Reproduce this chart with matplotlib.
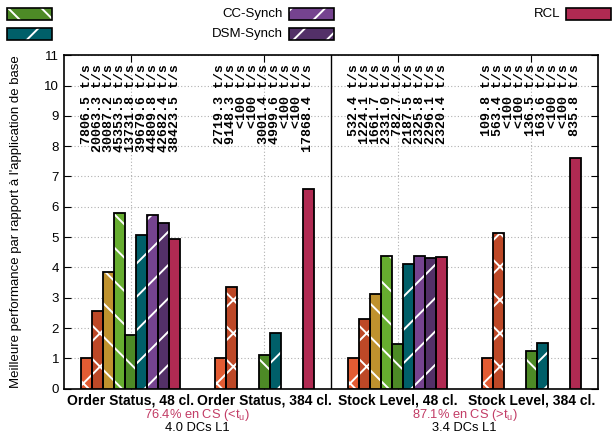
import matplotlib
matplotlib.use("Agg")
import matplotlib.pyplot as plt
import matplotlib.patches as mpatches
import numpy as np

plt.rcParams["font.family"] = ["Liberation Sans", "DejaVu Sans"]
plt.rcParams["hatch.linewidth"] = 1.4

# Throughput (transactions/s); NaN = below 100 t/s
groups = ["Order Status, 48 cl.", "Order Status, 384 cl.",
          "Stock Level, 48 cl.", "Stock Level, 384 cl."]
base     = [7806.5, 2719.3, 532.4, 109.8]
spinlock = [20063.3, 9148.3, 1224.1, 563.4]
mcs      = [30087.2, np.nan, 1661.7, np.nan]
flat     = [45353.5, np.nan, 2331.0, np.nan]
rclh     = [13731.8, 3001.4, 782.7, 136.5]
dsmh     = [39679.6, 4999.6, 2187.5, 163.6]
ccsynch  = [44809.8, np.nan, 2325.8, np.nan]
dsmsynch = [42682.4, np.nan, 2296.1, np.nan]
rcl      = [38423.5, 17868.4, 2320.4, 835.8]

series = [base, spinlock, mcs, flat, rclh, dsmh, ccsynch, dsmsynch, rcl]
colors = ["#e35c33", "#bd4827", "#bf922e", "#66ad2f", "#4d8a26",
          "#005f69", "#75438f", "#533068", "#b02a52"]
hatches = ["x", "x", "\\", "\\", "\\", "/", "/", "/", None]

cs_notes = ["76.4% en CS (<t$_\\mathregular{u}$)", "87.1% en CS (>t$_\\mathregular{u}$)"]
dc_notes = ["4.0 DCs L1", "3.4 DCs L1"]
PINK = "#c23b65"

fig = plt.figure(figsize=(6.14, 4.34), dpi=100)
ax = fig.add_axes([0.104, 0.1046, 0.87, 0.768])

x = np.arange(len(groups))
w = 0.0825
for i, (vals, col, h) in enumerate(zip(series, colors, hatches)):
    vals = np.array(vals, dtype=float)
    speedup = vals / np.array(base)
    ok = ~np.isnan(speedup)
    pos = x + (i - 4) * w
    # fill + white hatch, then a separate black outline
    ax.bar(pos[ok], speedup[ok], w, color=col, hatch=h, edgecolor="white",
           linewidth=0, zorder=3)
    ax.bar(pos[ok], speedup[ok], w, fill=False, edgecolor="black",
           linewidth=1.3, zorder=4)
    for p, v in zip(pos, vals):
        txt = "<100 t/s" if np.isnan(v) else f"{v:.1f} t/s"
        ax.text(p, 10.7, txt, rotation=90, ha="center", va="top",
                family="Liberation Mono", fontweight="bold", fontsize=9.5,
                zorder=5)

ax.set_xlim(-0.5, 3.5)
ax.set_ylim(0, 11)
ax.set_yticks(range(12))
ax.set_xticks(x)
ax.set_xticklabels([])
ax.tick_params(direction="in", right=True, top=True, length=5, labelsize=9.5)
ax.grid(True, color="#b0b0b0", ls=(0, (1, 2)), lw=0.8, zorder=0)
ax.axvline(1.5, color="black", lw=1, zorder=2)
for s in ax.spines.values():
    s.set_linewidth(1.2)

ax.set_ylabel("Meilleure performance par rapport à l'application de base",
              fontsize=9.5, labelpad=16)

tr = ax.get_xaxis_transform()
for xi, g in zip(x, groups):
    ax.text(xi, -0.037, g, transform=tr, ha="center", va="center",
            fontsize=10, fontweight="bold")
for k in range(2):
    xm = 2 * k + 0.5
    ax.text(xm, -0.080, cs_notes[k], transform=tr, ha="center", va="center",
            fontsize=9.3, color=PINK)
    ax.text(xm, -0.119, dc_notes[k], transform=tr, ha="center", va="center",
            fontsize=9.3)

# key (two rows, labels to the left of the swatches)
W, H = 614.0, 434.0
key = [(7, 14, colors[4], "\\", None), (7, 34, colors[5], "/", None),
       (289, 14, colors[6], "/", "CC-Synch"), (289, 34, colors[7], "/", "DSM-Synch"),
       (566, 14, colors[8], None, "RCL")]
for kx, ky, col, h, lab in key:
    r = mpatches.Rectangle((kx / W, 1 - (ky + 6) / H), 45 / W, 12 / H,
                           transform=fig.transFigure, facecolor=col, hatch=h,
                           edgecolor="white", linewidth=0)
    fig.add_artist(r)
    fig.add_artist(mpatches.Rectangle((kx / W, 1 - (ky + 6) / H), 45 / W, 12 / H,
                                      transform=fig.transFigure, fill=False,
                                      edgecolor="black", linewidth=1.2))
    if lab:
        fig.text((kx - 6) / W, 1 - ky / H, lab, ha="right", va="center",
                 fontsize=9.5)

fig.savefig("out.png", dpi=100)
